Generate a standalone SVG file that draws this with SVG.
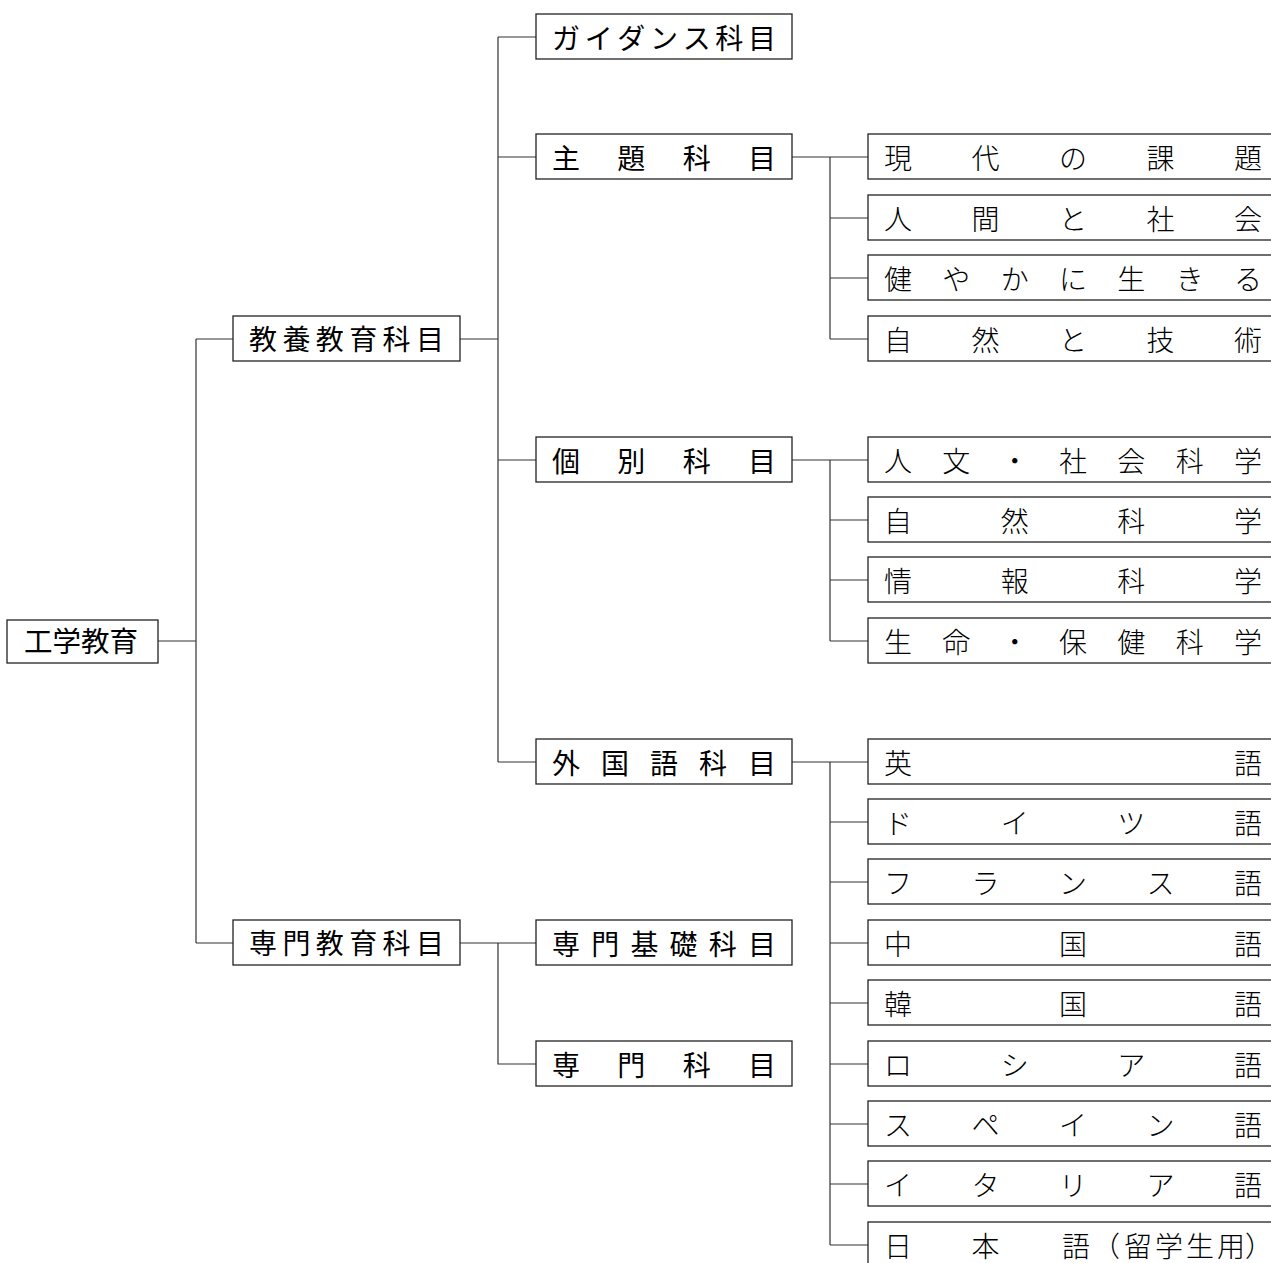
<svg xmlns="http://www.w3.org/2000/svg" width="1271" height="1263" viewBox="0 0 1271 1263">
<style>
.box{fill:#fff;stroke:#222;stroke-width:1.3}
.ln{fill:none;stroke:#333;stroke-width:1.2}
text{font-family:"Noto Sans CJK JP","Noto Sans CJK SC",sans-serif;fill:#000}
.t1{font-size:28.5px}
.t2{font-size:28px}
.t3{font-size:28px;font-weight:300}
</style>
<rect width="1271" height="1263" fill="#fff"/>
<g id="connectors" class="ln">
<path d="M158 641H196M196 339V943M196 339H233M196 943H233"/>
<path d="M460 339H498M498 37V762M498 37H536M498 157H536M498 460H536M498 762H536"/>
<path d="M460 943H536M498 943V1064H536"/>
<path d="M792 157H868M830 157V339M830 218H868M830 278H868M830 339H868"/>
<path d="M792 460H868M830 460V641M830 520H868M830 580H868M830 641H868"/>
<path d="M792 762H868M830 762V1245M830 822H868M830 882H868M830 943H868M830 1003H868M830 1064H868M830 1124H868M830 1184H868M830 1245H868"/>
</g>
<g id="n-kogaku"><rect class="box" x="7" y="620" width="151" height="43"/><text class="t1" x="24" y="652">工学教育</text></g>
<g id="n-kyoyo"><rect class="box" x="233" y="316" width="227" height="45"/><text class="t2" x="249 282.4 315.8 349.2 382.6 416" y="350">教養教育科目</text></g>
<g id="n-senmonkyoiku"><rect class="box" x="233" y="920" width="227" height="45"/><text class="t2" x="249 282.4 315.8 349.2 382.6 416" y="954">専門教育科目</text></g>
<g id="n-guidance"><rect class="box" x="536" y="14" width="256" height="45"/><text class="t2" x="552 584.7 617.3 650 682.7 715.3 748" y="49">ガイダンス科目</text></g>
<g id="n-shudai"><rect class="box" x="536" y="134" width="256" height="45"/><text class="t2" x="552 617.3 682.7 748" y="169">主題科目</text></g>
<g id="n-kobetsu"><rect class="box" x="536" y="437" width="256" height="45"/><text class="t2" x="552 617.3 682.7 748" y="472">個別科目</text></g>
<g id="n-gaikokugo"><rect class="box" x="536" y="739" width="256" height="45"/><text class="t2" x="552 601 650 699 748" y="774">外国語科目</text></g>
<g id="n-senmonkiso"><rect class="box" x="536" y="920" width="256" height="45"/><text class="t2" x="552 591.2 630.4 669.6 708.8 748" y="955">専門基礎科目</text></g>
<g id="n-senmon"><rect class="box" x="536" y="1041" width="256" height="45"/><text class="t2" x="552 617.3 682.7 748" y="1076">専門科目</text></g>
<g id="n-gendai"><rect class="box" x="868" y="134" width="420" height="45"/><text class="t3" x="884 971.5 1059 1146.5 1234" y="169">現代の課題</text></g>
<g id="n-ningen"><rect class="box" x="868" y="195" width="420" height="45"/><text class="t3" x="884 971.5 1059 1146.5 1234" y="230">人間と社会</text></g>
<g id="n-sukoyaka"><rect class="box" x="868" y="255" width="420" height="45"/><text class="t3" x="884 942.3 1000.7 1059 1117.3 1175.7 1234" y="290">健やかに生きる</text></g>
<g id="n-shizengijutsu"><rect class="box" x="868" y="316" width="420" height="45"/><text class="t3" x="884 971.5 1059 1146.5 1234" y="351">自然と技術</text></g>
<g id="n-jinbun"><rect class="box" x="868" y="437" width="420" height="45"/><text class="t3" x="884 942.3 1000.7 1059 1117.3 1175.7 1234" y="472">人文・社会科学</text></g>
<g id="n-shizenkagaku"><rect class="box" x="868" y="497" width="420" height="45"/><text class="t3" x="884 1000.7 1117.3 1234" y="532">自然科学</text></g>
<g id="n-joho"><rect class="box" x="868" y="557" width="420" height="45"/><text class="t3" x="884 1000.7 1117.3 1234" y="592">情報科学</text></g>
<g id="n-seimei"><rect class="box" x="868" y="618" width="420" height="45"/><text class="t3" x="884 942.3 1000.7 1059 1117.3 1175.7 1234" y="653">生命・保健科学</text></g>
<g id="n-eigo"><rect class="box" x="868" y="739" width="420" height="45"/><text class="t3" x="884 1234" y="774">英語</text></g>
<g id="n-doitsu"><rect class="box" x="868" y="799" width="420" height="45"/><text class="t3" x="884 1000.7 1117.3 1234" y="834">ドイツ語</text></g>
<g id="n-furansu"><rect class="box" x="868" y="859" width="420" height="45"/><text class="t3" x="884 971.5 1059 1146.5 1234" y="894">フランス語</text></g>
<g id="n-chugoku"><rect class="box" x="868" y="920" width="420" height="45"/><text class="t3" x="884 1059 1234" y="955">中国語</text></g>
<g id="n-kankoku"><rect class="box" x="868" y="980" width="420" height="45"/><text class="t3" x="884 1059 1234" y="1015">韓国語</text></g>
<g id="n-roshia"><rect class="box" x="868" y="1041" width="420" height="45"/><text class="t3" x="884 1000.7 1117.3 1234" y="1076">ロシア語</text></g>
<g id="n-supein"><rect class="box" x="868" y="1101" width="420" height="45"/><text class="t3" x="884 971.5 1059 1146.5 1234" y="1136">スペイン語</text></g>
<g id="n-itaria"><rect class="box" x="868" y="1161" width="420" height="45"/><text class="t3" x="884 971.5 1059 1146.5 1234" y="1196">イタリア語</text></g>
<g id="n-nihongo"><rect class="box" x="868" y="1222" width="420" height="45"/><text class="t3" x="884 971.5 1062 1092 1124 1155 1186 1217 1245" y="1257">日本語（留学生用）</text></g>
</svg>
